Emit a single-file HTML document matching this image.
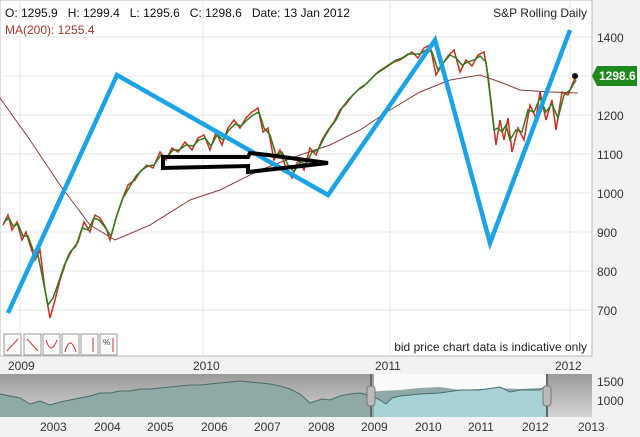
<!DOCTYPE html>
<html><head><meta charset="utf-8"><style>
body{margin:0;background:#fff;}
svg{display:block;font-family:"Liberation Sans",sans-serif;}
</style></head><body>
<svg width="640" height="437" viewBox="0 0 640 437">
<rect width="640" height="437" fill="#f2f2f2"/>
<rect x="0" y="0" width="592" height="356" fill="#fff" stroke="#bbb"/>
<g stroke="#e6e6e6" stroke-width="1">
<line x1="0" y1="37" x2="592" y2="37"/><line x1="0" y1="76" x2="592" y2="76"/><line x1="0" y1="115" x2="592" y2="115"/><line x1="0" y1="154" x2="592" y2="154"/><line x1="0" y1="193" x2="592" y2="193"/><line x1="0" y1="232" x2="592" y2="232"/><line x1="0" y1="271" x2="592" y2="271"/><line x1="0" y1="310" x2="592" y2="310"/>
<line x1="20" y1="0" x2="20" y2="356"/><line x1="203" y1="0" x2="203" y2="356"/><line x1="390" y1="0" x2="390" y2="356"/><line x1="570" y1="0" x2="570" y2="356"/>
</g>
<g font-size="12" fill="#333">
<text x="597" y="42">1400</text><text x="597" y="81">1300</text><text x="597" y="120">1200</text><text x="597" y="159">1100</text><text x="597" y="198">1000</text><text x="597" y="237">900</text><text x="597" y="276">800</text><text x="597" y="315">700</text>
</g>
<text x="5" y="17" font-size="12" fill="#111">O: 1295.9 &#160; H: 1299.4 &#160; L: 1295.6 &#160; C: 1298.6 &#160; Date: 13 Jan 2012</text>
<text x="5" y="34" font-size="12" fill="#a0392a">MA(200): 1255.4</text>
<text x="587" y="17" font-size="12" fill="#222" text-anchor="end">S&amp;P Rolling Daily</text>
<polyline fill="none" stroke="#8b3a3a" stroke-width="1" points="0,98 30,140 60,185 90,225 115,240 150,225 190,200 220,190 260,170 300,155 330,145 360,130 390,110 420,92 450,80 480,75 500,82 520,90 550,92 578,93"/>
<polyline fill="none" stroke="#c83020" stroke-width="1.5" points="3,225 8,215 12,230 17,222 22,240 26,232 30,245 35,260 40,250 45,290 50,318 55,300 60,280 66,262 72,250 78,242 84,222 90,232 95,215 100,218 106,228 110,240 116,218 122,200 128,185 135,180 140,172 147,165 153,168 160,152 166,160 172,148 178,152 185,142 192,150 198,138 204,135 210,150 216,132 222,145 228,128 234,120 240,128 246,118 252,112 258,108 263,132 268,128 274,160 280,150 286,168 292,178 298,160 304,170 310,148 316,155 322,140 328,130 334,122 340,110 346,104 352,96 358,90 364,86 370,80 376,74 382,70 388,66 394,62 400,60 406,56 412,52 418,58 424,48 430,45 436,75 442,65 448,56 454,50 460,72 466,60 472,66 478,55 484,52 488,75 492,110 496,145 500,120 504,140 508,118 512,152 518,128 524,140 530,105 536,118 540,92 546,120 552,100 556,130 562,92 568,95 574,80 578,76"/>
<polyline fill="none" stroke="#2f7a1f" stroke-width="1.5" points="4,222 9,218 13,226 18,224 23,236 28,236 33,250 38,255 43,280 48,305 53,298 58,284 64,266 70,252 76,246 82,228 88,230 94,218 99,220 104,226 111,236 117,215 123,198 129,188 136,176 142,170 148,166 154,165 161,155 167,157 173,150 179,150 186,145 193,146 199,140 205,138 211,146 217,135 223,140 229,130 235,124 241,126 247,120 253,115 259,112 264,128 270,135 276,155 282,152 288,165 294,172 300,162 306,164 312,152 318,150 324,138 330,128 336,120 342,108 348,100 354,94 360,88 366,84 372,78 378,72 384,68 390,64 396,60 402,58 408,54 414,54 420,54 426,50 432,52 438,70 444,62 450,55 456,58 462,65 468,62 474,60 480,56 486,62 490,95 494,130 498,128 502,132 506,125 510,140 516,130 522,132 528,110 534,112 540,98 546,112 552,104 558,118 564,95 570,90 576,80"/>
<circle cx="575" cy="76" r="3" fill="#111"/>
<polyline fill="none" stroke="#1ba3e6" stroke-width="4.5" stroke-linejoin="miter" points="8,313 117,75 328,195 435,40 490,243 570,30"/>
<polygon fill="none" stroke="#000" stroke-width="4" points="163,157 248,157 250,153 268,155 328,163 248,172 248,166 163,168"/>
<polygon points="592,76 597,66 637,66 637,86 597,86" fill="#1e8a1e"/>
<text x="599" y="80" font-size="12" font-weight="bold" fill="#fff">1298.6</text>
<g stroke="#999" fill="#fafafa">
<rect x="4" y="334" width="17" height="21"/><rect x="24" y="334" width="17" height="21"/><rect x="43" y="334" width="17" height="21"/><rect x="62" y="334" width="17" height="21"/><rect x="81" y="334" width="17" height="21"/><rect x="100" y="334" width="17" height="21"/>
</g>
<g stroke="#c33" stroke-width="1" fill="none">
<line x1="7" y1="351" x2="18" y2="339"/><line x1="27" y1="339" x2="38" y2="351"/><path d="M46,340 Q51,356 57,340"/><path d="M65,352 Q70,334 76,352"/><line x1="93" y1="338" x2="93" y2="352"/><line x1="113" y1="338" x2="113" y2="352"/>
</g>
<text x="103" y="345" font-size="8" fill="#333">%</text>
<text x="587" y="351" font-size="12" fill="#222" text-anchor="end">bid price chart data is indicative only</text>
<g font-size="12" fill="#333">
<text x="8" y="370">2009</text><text x="193" y="370">2010</text><text x="375" y="370">2011</text><text x="555" y="370">2012</text>
</g>
<defs><linearGradient id="g" x1="0" y1="0" x2="0" y2="1"><stop offset="0" stop-color="#9a9a9a"/><stop offset="1" stop-color="#d5d5d5"/></linearGradient></defs>
<rect x="0" y="374" width="592" height="43" fill="url(#g)"/>
<rect x="374" y="374" width="172" height="43" fill="#fafafa"/>
<polygon fill="#8fa9a6" points="0,417 0,394 10,396 20,398 30,404 40,401 50,405 60,402 70,400 80,398 90,396 100,393 110,393 120,391 130,391 140,389 150,389 160,388 170,387 180,386 190,385 200,385 210,384 220,383 230,382 240,381 250,382 260,383 270,384 280,386 290,389 300,394 310,403 322,399 330,400 340,396 350,394 360,393 380,391 400,390 420,388 440,387 460,390 480,389 500,388 520,389 540,388 546,387 546,417"/>
<polygon fill="#a8d3d6" points="374,417 374,397 380,400 386,404 392,398 400,396 420,394 440,393 460,390 480,390 500,387 510,392 520,390 540,390 546,386 546,417"/>
<polyline fill="none" stroke="#4a6b68" stroke-width="1" points="0,394 10,396 20,398 30,404 40,401 50,405 60,402 70,400 80,398 90,396 100,393 110,393 120,391 130,391 140,389 150,389 160,388 170,387 180,386 190,385 200,385 210,384 220,383 230,382 240,381 250,382 260,383 270,384 280,386 290,389 300,394 310,403 322,399 330,400 340,396 350,394 360,393 374,397 380,400 386,404 392,398 400,396 420,394 440,393 460,390 480,390 500,387 510,392 520,390 540,390 546,386"/>
<rect x="370" y="374" width="2" height="43" fill="#666"/><rect x="546" y="374" width="2" height="43" fill="#666"/>
<rect x="367" y="386" width="8" height="20" rx="3" fill="#bbb" stroke="#777"/><rect x="543" y="386" width="8" height="20" rx="3" fill="#bbb" stroke="#777"/>
<g font-size="12" fill="#333">
<text x="597" y="386">1500</text><text x="597" y="405">1000</text>
<text x="40" y="431">2003</text><text x="94" y="431">2004</text><text x="147" y="431">2005</text><text x="201" y="431">2006</text><text x="254" y="431">2007</text><text x="308" y="431">2008</text><text x="361" y="431">2009</text><text x="415" y="431">2010</text><text x="468" y="431">2011</text><text x="522" y="431">2012</text><text x="578" y="431">2013</text>
</g>
</svg>
</body></html>
